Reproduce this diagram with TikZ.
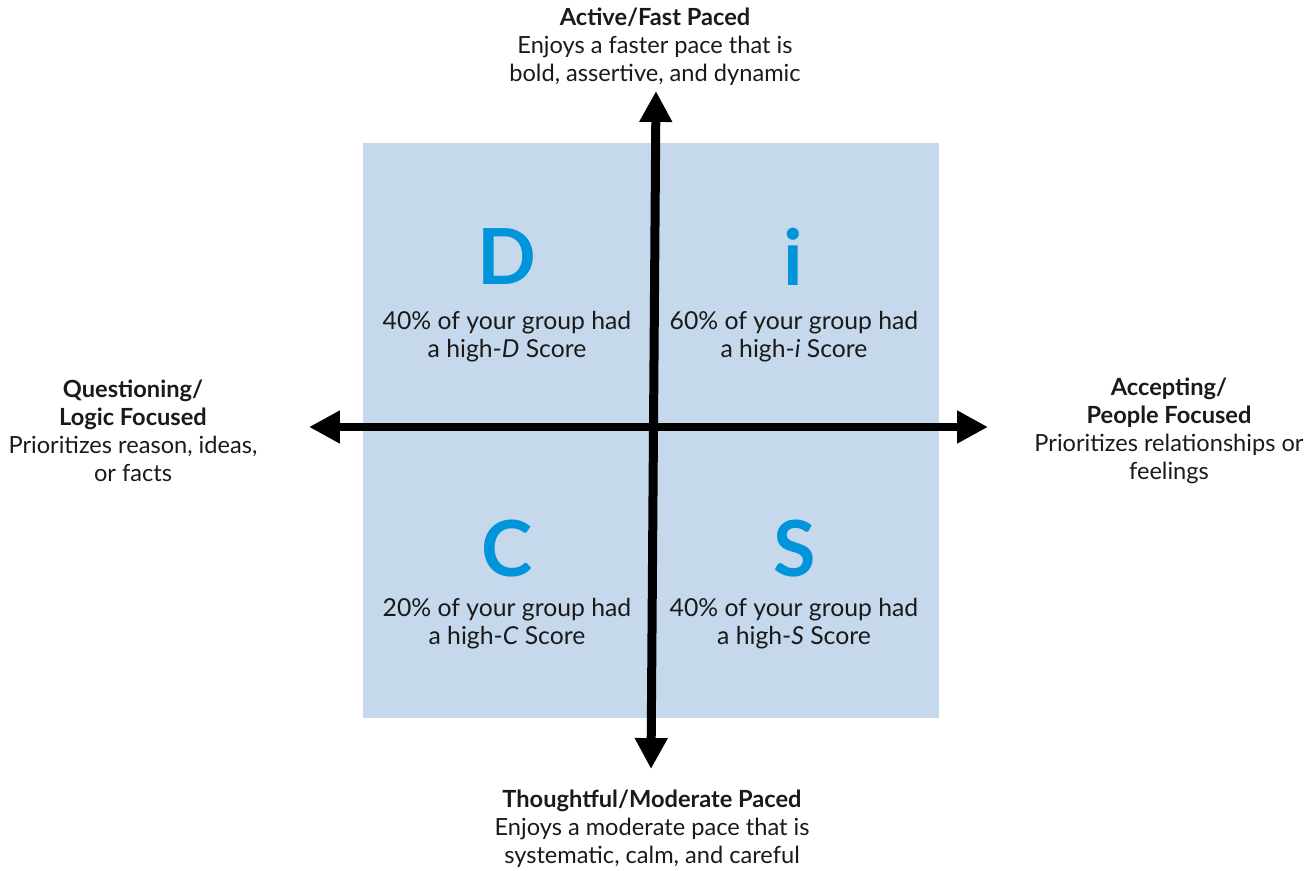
\documentclass[tikz,border=0pt]{standalone}
\usepackage{fontspec}
\setmainfont{Lato}
\usetikzlibrary{arrows.meta}

\definecolor{quadblue}{HTML}{C5D8EC}
\definecolor{letterblue}{HTML}{0095DA}
\definecolor{textgray}{HTML}{1A1A1A}

\tikzset{
  axis/.style={line width=6.4pt, -{Triangle[length=22pt,width=22pt]}},
  letter/.style={text=letterblue, font=\fontsize{55}{60}\selectfont\bfseries},
  info/.style={text=textgray, align=center, font=\fontsize{17.6}{20.2}\selectfont},
  pole/.style={text=textgray, align=center, font=\fontsize{16.8}{19.9}\selectfont}
}

\begin{document}
\begin{tikzpicture}[x=0.25cm,y=-0.25cm]
  \useasboundingbox (0,0) rectangle (131.5,87.1);
  \fill[quadblue] (36.3,14.3) rectangle (93.9,71.8);

  % axes
  \coordinate (top) at (65.6,9.1);
  \coordinate (bottom) at (65.1,76.9);
  \coordinate (left) at (30.9,42.7);
  \coordinate (right) at (98.8,42.7);
  \coordinate (mid) at (65.35,42.7);
  \draw[axis] (mid) -- (top);
  \draw[axis] (mid) -- (bottom);
  \draw[axis] (mid) -- (left);
  \draw[axis] (mid) -- (right);
  %%%%%%%%%%%%%%%%%%%%%
  \node[letter] (D) at (50.7,25.7) {D};
  \node[letter] (I) at (79.3,25.7) {i};
  \node[letter] (C) at (50.7,54.9) {C};
  \node[letter] (S) at (79.5,54.9) {S};
  %
  \node[info] (dtext) at (50.7,33.65) {40\% of your group had\\a high-\textit{D} Score};
  \node[info] (itext) at (79.4,33.65) {60\% of your group had\\a high-\textit{i} Score};
  \node[info] (ctext) at (50.7,62.35) {20\% of your group had\\a high-\textit{C} Score};
  \node[info] (stext) at (79.4,62.35) {40\% of your group had\\a high-\textit{S} Score};
  %%%%%%%%%%%%%%%%%%%%%
  \node[pole] (active) at (65.5,4.7) {\textbf{Active/Fast Paced}\\Enjoys a faster pace that is\\bold, assertive, and dynamic};
  \node[pole] (thoughtful) at (65.2,82.9) {\textbf{Thoughtful/Moderate Paced}\\Enjoys a moderate pace that is\\systematic, calm, and careful};
  \node[pole] (questioning) at (13.3,43.05) {\textbf{Questioning/}\\\textbf{Logic Focused}\\Prioritizes reason, ideas,\\or facts};
  \node[pole] (accepting) at (116.9,43.05) {\textbf{Accepting/}\\\textbf{People Focused}\\Prioritizes relationships or\\feelings};
\end{tikzpicture}
\end{document}
